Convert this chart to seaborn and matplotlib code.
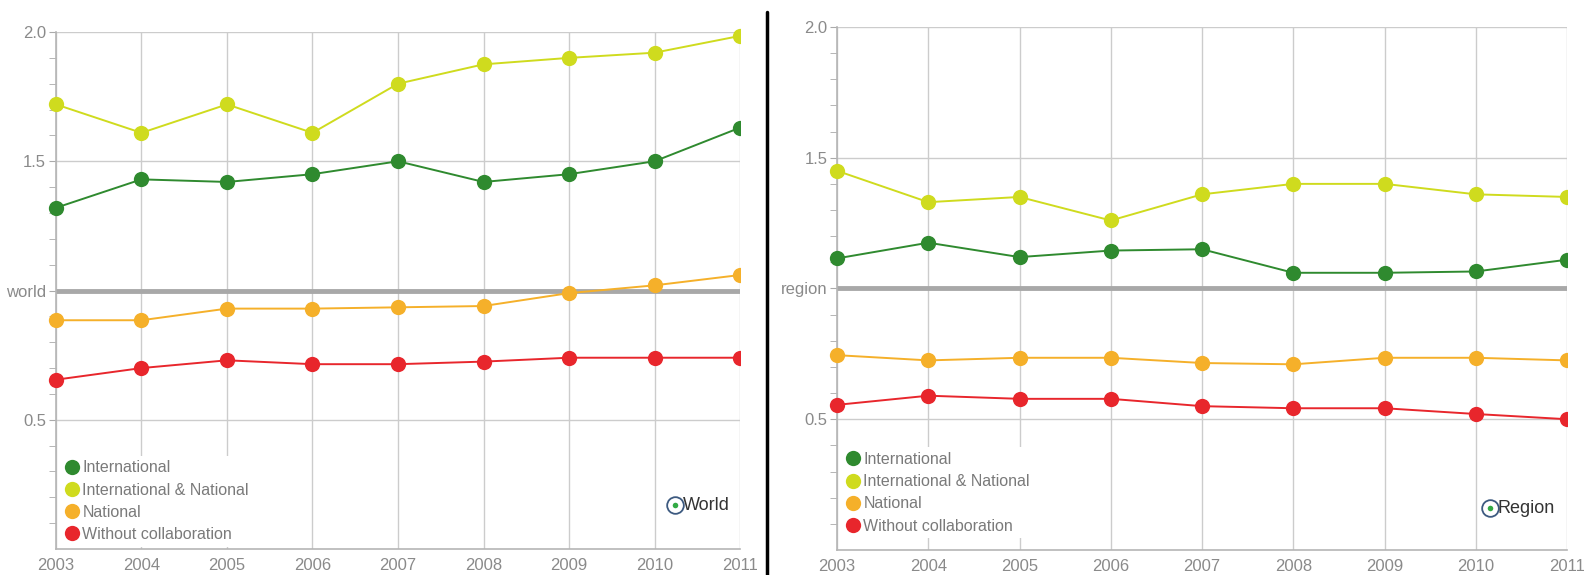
import matplotlib
matplotlib.use('Agg')
import matplotlib.pyplot as plt
from matplotlib.lines import Line2D
from matplotlib.patches import Rectangle
import seaborn as sns
import pandas as pd

years = [2003, 2004, 2005, 2006, 2007, 2008, 2009, 2010, 2011]
series = ['International', 'International & National', 'National', 'Without collaboration']
colors = ['#2f8a2f', '#cfdb1e', '#f5b02a', '#e8262c']

# World panel
world_int = [1.32, 1.43, 1.42, 1.45, 1.50, 1.42, 1.45, 1.50, 1.63]
world_intnat = [1.72, 1.61, 1.72, 1.61, 1.80, 1.875, 1.90, 1.92, 1.985]
world_nat = [0.885, 0.885, 0.93, 0.93, 0.935, 0.94, 0.99, 1.02, 1.06]
world_without = [0.655, 0.70, 0.73, 0.715, 0.715, 0.725, 0.74, 0.74, 0.74]

# Region panel
region_int = [1.115, 1.175, 1.12, 1.145, 1.15, 1.06, 1.06, 1.065, 1.11]
region_intnat = [1.45, 1.33, 1.35, 1.26, 1.36, 1.40, 1.40, 1.36, 1.35]
region_nat = [0.745, 0.725, 0.735, 0.735, 0.715, 0.71, 0.735, 0.735, 0.725]
region_without = [0.555, 0.59, 0.578, 0.578, 0.55, 0.542, 0.542, 0.52, 0.50]

ref_labels = ['world', 'region']
badge_labels = ['World', 'Region']

sns.set_style('white')
plt.rcParams['font.family'] = ['Liberation Sans', 'DejaVu Sans']


def long_df(vals):
    rows = []
    for name, v in zip(series, vals):
        for y, val in zip(years, v):
            rows.append({'year': y, 'value': val, 'series': name})
    return pd.DataFrame(rows)


fig = plt.figure(figsize=(15.85, 5.75), dpi=100)
ax1 = fig.add_axes([0.0353, 0.0452, 0.4316, 0.8991])
ax2 = fig.add_axes([0.5281, 0.0435, 0.4606, 0.9096])

panels = [
    (ax1, [world_int, world_intnat, world_nat, world_without]),
    (ax2, [region_int, region_intnat, region_nat, region_without]),
]
badge_pos = [(0.905, 0.085), (0.894, 0.080)]
legend_anchor = [(0.0, -0.002), (0.0, 0.016)]

for i, (ax, vals) in enumerate(panels):
    df = long_df(vals)
    sns.lineplot(data=df, x='year', y='value', hue='series', hue_order=series,
                 palette=dict(zip(series, colors)), marker='o', markersize=11,
                 markeredgewidth=0, linewidth=1.4, legend=False, ax=ax, zorder=3)
    # markers at the right edge get cut, the left ones do not
    clip = Rectangle((-0.05, -0.05), 1.05, 1.1, transform=ax.transAxes)
    for ln in ax.lines:
        ln.set_clip_path(clip)

    ax.set_xlim(2003, 2011)
    ax.set_ylim(0, 2.0)
    ax.set_xticks(years)
    ax.set_xticklabels([str(y) for y in years])
    ax.set_yticks([0.5, 1.0, 1.5, 2.0])
    ax.set_yticklabels(['0.5', ref_labels[i], '1.5', '2.0'])
    ax.set_yticks([k / 10 for k in range(1, 20)], minor=True)
    ax.tick_params(axis='y', which='both', left=True, length=5, color='#aaaaaa',
                   labelcolor='#8a8a8a', labelsize=12, pad=2)
    ax.tick_params(axis='x', bottom=False, labelcolor='#8a8a8a', labelsize=12, pad=3)
    ax.set_xlabel('')
    ax.set_ylabel('')

    ax.grid(True, color='#cccccc', linewidth=1, zorder=0)
    ax.axhline(1.0, color='#a8a8a8', linewidth=3.5, zorder=2)
    for s in ['top', 'right']:
        ax.spines[s].set_visible(False)
    for s in ['left', 'bottom']:
        ax.spines[s].set_color('#b5b5b5')
        ax.spines[s].set_linewidth(1.2)

    handles = [Line2D([], [], linestyle='none', marker='o', markersize=11,
                      markerfacecolor=c, markeredgewidth=0) for c in colors]
    leg = ax.legend(handles, series, loc='lower left', bbox_to_anchor=legend_anchor[i],
                    frameon=True, facecolor='white', edgecolor='none', framealpha=1,
                    fontsize=11.5, labelcolor='#7a7a7a', handletextpad=0.15,
                    handlelength=1.0, labelspacing=0.45, borderpad=0.3,
                    borderaxespad=0.2)
    leg.set_zorder(5)

    bx, by = badge_pos[i]
    ax.plot([bx], [by], marker='o', markersize=12, markerfacecolor='white',
            markeredgecolor='#3d5a80', markeredgewidth=1.3, transform=ax.transAxes,
            clip_on=False, zorder=6)
    ax.plot([bx], [by], marker='o', markersize=4, markerfacecolor='#33aa44',
            markeredgewidth=0, transform=ax.transAxes, clip_on=False, zorder=7)
    ax.text(bx + 0.011, by, badge_labels[i], transform=ax.transAxes, ha='left',
            va='center', fontsize=13, color='#333333', zorder=7)

# divider between the two charts
fig.add_artist(Line2D([767 / 1585, 767 / 1585], [0, 1 - 12 / 575],
                      color='black', linewidth=2.5, transform=fig.transFigure))

fig.savefig('out.png', dpi=100)
